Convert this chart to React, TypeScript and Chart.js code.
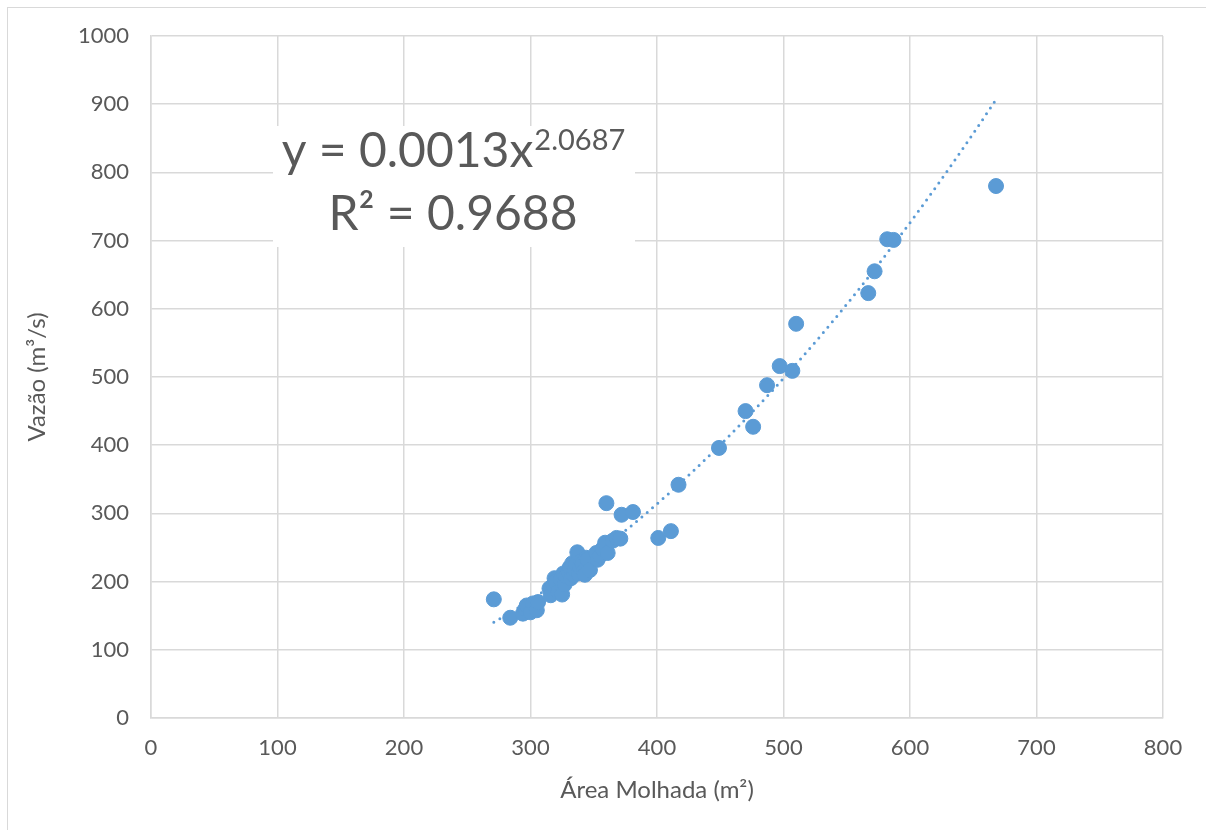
import React, { useEffect, useRef } from "react";
import { Chart, registerables } from "chart.js";

Chart.register(...registerables);

// Data (Área Molhada m², Vazão m³/s)
const areaValues = [
  271, 284, 294, 296, 297, 300, 302, 305, 306,
  315, 316, 318, 319, 320, 322, 324, 325, 326, 327,
  328, 330, 331, 332, 333, 334, 335, 336, 337, 338,
  339, 340, 341, 342, 343, 344, 345, 347, 352, 353,
  355, 357, 359, 360, 361, 365, 368, 371, 372, 381,
  401, 411, 417, 449, 470, 476, 487, 497, 507, 510,
  567, 572, 582, 587, 668,
];
const flowValues = [
  174, 147, 153, 160, 165, 155, 168, 158, 170,
  190, 180, 195, 205, 200, 185, 203, 181, 212, 196,
  208, 215, 221, 205, 227, 210, 218, 225, 243, 212,
  221, 230, 226, 215, 210, 235, 232, 217, 242, 232,
  238, 248, 257, 315, 242, 260, 264, 263, 298, 302,
  264, 274, 342, 396, 450, 427, 488, 516, 509, 578,
  623, 655, 702, 701, 780,
];

// Power trendline as printed on the chart
const trendA = 0.0013;
const trendB = 2.0687;
const trendLabel1 = "y = 0.0013x";
const trendLabelExp = "2.0687";
const trendLabel2 = "R² = 0.9688";

const xTitle = "Área Molhada (m²)";
const yTitle = "Vazão (m³/s)";

const BLUE = "#5B9BD5";
const TEXT = "#595959";
const GRID = "#d9d9d9";
const FONT = "Lato, 'Open Sans', sans-serif";

const labelPlugin = {
  id: "trendLabel",
  afterDraw(chart: any) {
    const ctx = chart.ctx;
    ctx.save();
    ctx.fillStyle = "#ffffff";
    ctx.fillRect(273, 126, 362, 121);
    ctx.fillStyle = TEXT;
    ctx.textBaseline = "alphabetic";
    ctx.textAlign = "left";
    const cx = 453;
    ctx.font = `48px ${FONT}`;
    const w1 = ctx.measureText(trendLabel1).width;
    ctx.font = `29px ${FONT}`;
    const wE = ctx.measureText(trendLabelExp).width;
    const start = cx - (w1 + wE) / 2;
    ctx.font = `48px ${FONT}`;
    ctx.fillText(trendLabel1, start, 167);
    ctx.font = `29px ${FONT}`;
    ctx.fillText(trendLabelExp, start + w1 + 1, 150);
    ctx.font = `48px ${FONT}`;
    ctx.textAlign = "center";
    ctx.fillText(trendLabel2, cx, 230);
    ctx.restore();
  },
};

export default function App() {
  const ref = useRef<HTMLCanvasElement>(null);

  useEffect(() => {
    if (!ref.current) return;
    const points = areaValues.map((x, i) => ({ x, y: flowValues[i] }));
    const xmin = Math.min(...areaValues);
    const xmax = Math.max(...areaValues);
    const trend: { x: number; y: number }[] = [];
    for (let x = xmin; x <= xmax; x += 2) {
      trend.push({ x, y: trendA * Math.pow(x, trendB) });
    }
    trend.push({ x: xmax, y: trendA * Math.pow(xmax, trendB) });

    const chart = new Chart(ref.current, {
      type: "scatter",
      data: {
        datasets: [
          {
            label: "Vazão",
            data: points,
            backgroundColor: BLUE,
            borderColor: BLUE,
            pointRadius: 7.5,
            pointHoverRadius: 7.5,
            borderWidth: 1,
          },
          {
            type: "line",
            label: "Tendência",
            data: trend,
            borderColor: BLUE,
            borderWidth: 3,
            borderDash: [0, 7],
            borderCapStyle: "round",
            pointRadius: 0,
            fill: false,
            tension: 0,
          } as any,
        ],
      },
      options: {
        animation: false,
        responsive: true,
        maintainAspectRatio: false,
        layout: { padding: { top: 36, right: 43, bottom: 0, left: 0 } },
        plugins: {
          legend: { display: false },
          tooltip: { enabled: false },
        },
        scales: {
          x: {
            type: "linear",
            min: 0,
            max: 800,
            ticks: {
              stepSize: 100,
              color: TEXT,
              font: { family: FONT, size: 22 },
              padding: 17,
              callback: (v: any) => String(v),
            },
            grid: { color: GRID, lineWidth: 1.5, drawTicks: false },
            border: { color: GRID, width: 1.5 },
            title: {
              display: true,
              text: xTitle,
              color: TEXT,
              font: { family: FONT, size: 24 },
              padding: { top: 0, bottom: 25 },
            },
            afterFit(scale: any) {
              scale.height = 112;
            },
          },
          y: {
            type: "linear",
            min: 0,
            max: 1000,
            ticks: {
              stepSize: 100,
              color: TEXT,
              font: { family: FONT, size: 22 },
              padding: 22,
              callback: (v: any) => String(v),
            },
            grid: { color: GRID, lineWidth: 1.5, drawTicks: false },
            border: { color: GRID, width: 1.5 },
            title: {
              display: true,
              text: yTitle,
              color: TEXT,
              font: { family: FONT, size: 24 },
              padding: { top: 23, bottom: 0 },
            },
            afterFit(scale: any) {
              scale.width = 151;
            },
          },
        },
      },
      plugins: [labelPlugin],
    });
    return () => chart.destroy();
  }, []);

  return (
    <>
      <div
        style={{
          position: "fixed",
          left: 7,
          top: 7,
          width: 1300,
          height: 900,
          borderLeft: "1.5px solid #d9d9d9",
          borderTop: "1.5px solid #d9d9d9",
          pointerEvents: "none",
        }}
      />
      <div style={{ position: "fixed", left: 0, top: 0, width: 1206, height: 830 }}>
        <canvas ref={ref} />
      </div>
    </>
  );
}
